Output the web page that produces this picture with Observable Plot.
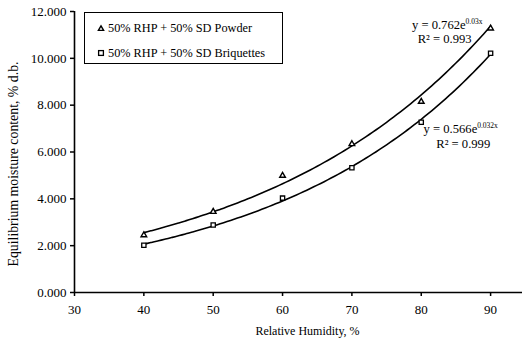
<!DOCTYPE html>
<html><head><meta charset="utf-8">
<script src="https://cdn.jsdelivr.net/npm/d3@7"></script>
<script src="https://cdn.jsdelivr.net/npm/@observablehq/plot@0.6"></script>
<style>
body{margin:0;background:#fff;}
#wrap{position:relative;width:522px;height:341px;font-family:"Liberation Serif","Times New Roman",serif;color:#000;}
#legend{position:absolute;left:84px;top:12px;width:199px;height:52px;border:1.3px solid #000;background:#fff;font-size:12.3px;box-sizing:border-box;}
#legend .item{position:absolute;left:12px;display:flex;align-items:center;white-space:nowrap;line-height:14px;}
#legend svg{margin-right:3px;}
#ylab{position:absolute;left:14px;top:164px;transform:translate(-50%,-50%) rotate(-90deg);white-space:nowrap;font-size:13.8px;}
</style></head><body><div id="wrap"></div>
<script>
const humidity = [40, 50, 60, 70, 80, 90];
const powder = [2.45, 3.45, 4.99, 6.34, 8.15, 11.28];
const briquettes = [2.02, 2.88, 4.03, 5.33, 7.27, 10.22];
const seriesNames = ["50% RHP + 50% SD Powder", "50% RHP + 50% SD Briquettes"];
const seriesSymbols = ["triangle", "square"];
const xTicks = [30, 40, 50, 60, 70, 80, 90];
const yTicks = [0, 2, 4, 6, 8, 10, 12];
const eqMain = ["y = 0.762e", "y = 0.566e"];
const eqExp = ["0.03x", "0.032x"];
const r2Text = ["R² = 0.993", "R² = 0.999"];
const xTitle = "Relative Humidity, %";
const yTitle = "Equilibrium moisture content, % d.b.";

const font = "Liberation Serif, Times New Roman, serif";

// exponential trendline fitted from the data (least squares on ln y), like the spreadsheet trendline
function expFit(xs, ys) {
  const ly = ys.map(Math.log);
  const mx = d3.mean(xs), my = d3.mean(ly);
  const b = d3.sum(xs, (x, i) => (x - mx) * (ly[i] - my)) / d3.sum(xs, x => (x - mx) ** 2);
  const a = Math.exp(my - b * mx);
  return {a, b};
}
function curve(xs, ys, name) {
  const {a, b} = expFit(xs, ys);
  const [x0, x1] = d3.extent(xs);
  return d3.range(x0, x1 + 0.001, 0.5).map(x => ({x, y: a * Math.exp(b * x), name}));
}
const pts = [
  ...humidity.map((x, i) => ({x, y: powder[i], name: seriesNames[0], sym: seriesSymbols[0]})),
  ...humidity.map((x, i) => ({x, y: briquettes[i], name: seriesNames[1], sym: seriesSymbols[1]}))
];
const fits = [...curve(humidity, powder, seriesNames[0]), ...curve(humidity, briquettes, seriesNames[1])];

const pEnd = {x: humidity[5], y: powder[5]};
const bAnch = {x: humidity[4], y: briquettes[4]};
const eqSize = 12.6;

const chart = Plot.plot({
  width: 522, height: 341,
  marginLeft: 74, marginRight: 0, marginTop: 11, marginBottom: 49,
  style: {fontFamily: font, fontSize: "13px", color: "#000", background: "#fff"},
  x: {domain: [30, 94.6], label: null},
  y: {domain: [0, 12], label: null},
  marks: [
    Plot.axisX({ticks: xTicks, tickSize: 4, tickPadding: 8, fontSize: 13, stroke: "#000", strokeWidth: 1.5, strokeOpacity: 1, label: null}),
    Plot.axisY({ticks: yTicks, tickSize: 4, tickPadding: 4, tickFormat: d3.format(".3f"), fontSize: 13, stroke: "#000", strokeWidth: 1.5, strokeOpacity: 1, label: null}),
    Plot.ruleX([30], {stroke: "#000", strokeWidth: 1.6}),
    Plot.ruleY([0], {stroke: "#000", strokeWidth: 1.6}),
    Plot.line(fits, {x: "x", y: "y", z: "name", stroke: "#000", strokeWidth: 1.6, curve: "monotone-x"}),
    Plot.dot(pts.filter(d => d.sym === "triangle"), {x: "x", y: "y", symbol: "triangle", r: 2.1, fill: "#fff", stroke: "#000", strokeWidth: 1.4}),
    Plot.dot(pts.filter(d => d.sym === "square"), {x: "x", y: "y", symbol: "square", r: 2.4, fill: "#fff", stroke: "#000", strokeWidth: 1.3}),
    // equation labels
    Plot.text([pEnd], {x: "x", y: "y", text: () => eqMain[0], textAnchor: "end", dx: -25, dy: -3, fontSize: eqSize, fill: "#000"}),
    Plot.text([pEnd], {x: "x", y: "y", text: () => eqExp[0], textAnchor: "start", dx: -25, dy: -7, fontSize: 7.5, fill: "#000"}),
    Plot.text([pEnd], {x: "x", y: "y", text: () => r2Text[0], textAnchor: "middle", dx: -46, dy: 11, fontSize: eqSize, fill: "#000"}),
    Plot.text([bAnch], {x: "x", y: "y", text: () => eqMain[1], textAnchor: "end", dx: 56, dy: 7, fontSize: eqSize, fill: "#000"}),
    Plot.text([bAnch], {x: "x", y: "y", text: () => eqExp[1], textAnchor: "start", dx: 56, dy: 3, fontSize: 7.5, fill: "#000"}),
    Plot.text([bAnch], {x: "x", y: "y", text: () => r2Text[1], textAnchor: "middle", dx: 42, dy: 22, fontSize: eqSize, fill: "#000"}),
    // x axis title
    Plot.text([xTitle], {frameAnchor: "bottom", dy: 42, dx: 9, fontSize: 12, fill: "#000"})
  ]
});
const wrap = document.getElementById("wrap");
wrap.appendChild(chart);

// y axis title (rotated)
const ylab = document.createElement("div");
ylab.id = "ylab";
ylab.textContent = yTitle;
wrap.appendChild(ylab);

// legend overlay
const legend = document.createElement("div");
legend.id = "legend";
seriesNames.forEach((name, i) => {
  const item = document.createElement("div");
  item.className = "item";
  item.style.top = (i === 0 ? 8 : 33) + "px";
  const sym = d3.create("svg").attr("width", 8).attr("height", 8);
  if (seriesSymbols[i] === "triangle") {
    sym.append("path").attr("d", "M4,1.8L6.6,6.4L1.4,6.4Z").attr("fill", "#fff").attr("stroke", "#000").attr("stroke-width", 1.4);
  } else {
    sym.append("rect").attr("x", 1.6).attr("y", 1.6).attr("width", 4.8).attr("height", 4.8).attr("fill", "#fff").attr("stroke", "#000").attr("stroke-width", 1.3);
  }
  item.appendChild(sym.node());
  const t = document.createElement("span");
  t.textContent = name;
  item.appendChild(t);
  legend.appendChild(item);
});
wrap.appendChild(legend);
</script>
</body></html>
